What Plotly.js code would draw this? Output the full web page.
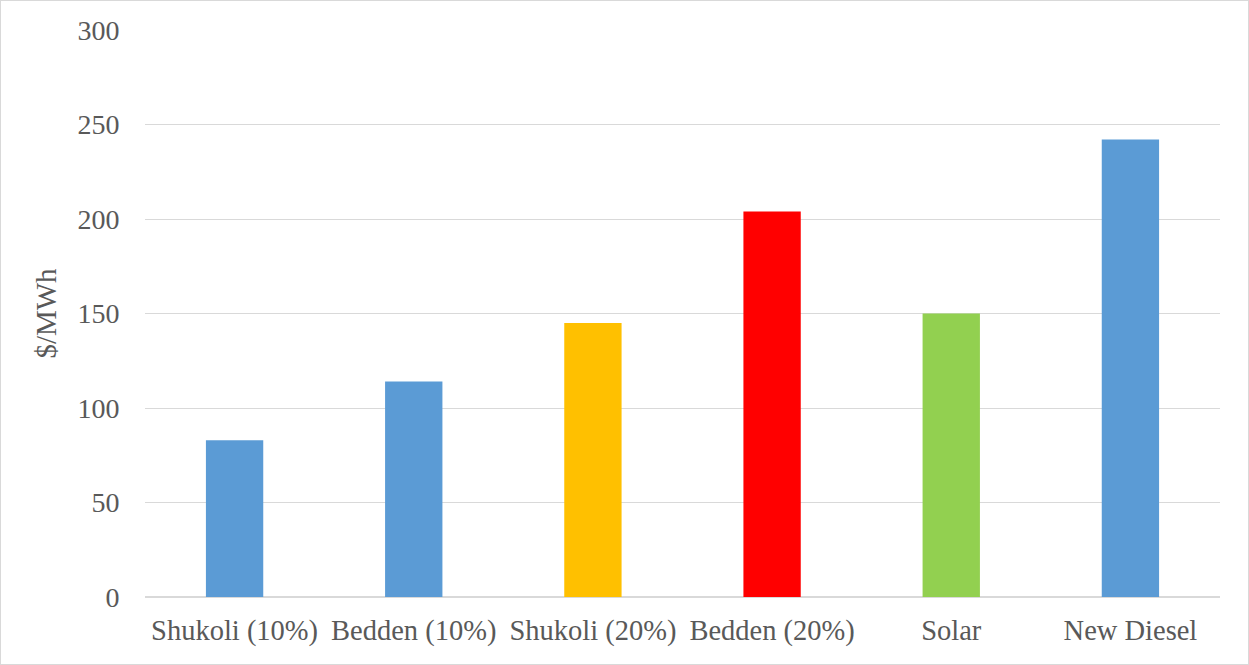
<!DOCTYPE html>
<html>
<head>
<meta charset="utf-8">
<script src="https://cdn.plot.ly/plotly-3.0.1.min.js"></script>
<style>
html,body{margin:0;padding:0;background:#fff;}
#wrap{width:1249px;height:665px;box-sizing:border-box;border:1px solid #d9d9d9;}
#chart{width:1247px;height:663px;}
</style>
</head>
<body>
<div id="wrap"><div id="chart"></div></div>
<script>
const categories = ["Shukoli (10%)", "Bedden (10%)", "Shukoli (20%)", "Bedden (20%)", "Solar", "New Diesel"];
const costs = [83, 114, 145, 204, 150, 242];
const barColors = ["#5B9BD5", "#5B9BD5", "#FFC000", "#FF0000", "#92D050", "#5B9BD5"];
const yTicks = [0, 50, 100, 150, 200, 250, 300];

const font = {family: "Liberation Serif, serif", color: "#595959"};

Plotly.newPlot("chart", [{
  type: "bar",
  x: categories,
  y: costs,
  marker: {color: barColors},
  hoverinfo: "x+y"
}], {
  width: 1247, height: 663,
  margin: {l: 144, r: 28, t: 29, b: 67},
  paper_bgcolor: "#fff", plot_bgcolor: "#fff",
  bargap: 0.68,
  showlegend: false,
  font: Object.assign({size: 28}, font),
  xaxis: {
    type: "category",
    showgrid: false,
    showline: false,
    ticks: "outside", ticklen: 8, tickcolor: "rgba(0,0,0,0)",
    tickfont: Object.assign({size: 28.5}, font)
  },
  yaxis: {
    range: [0, 300],
    tickvals: yTicks,
    gridcolor: "#d9d9d9", gridwidth: 1,
    zeroline: true, zerolinecolor: "#d9d9d9", zerolinewidth: 1.5,
    showline: false,
    ticks: "outside", ticklen: 19, tickcolor: "rgba(0,0,0,0)",
    tickfont: Object.assign({size: 28}, font),
    title: {text: "$/MWh", font: Object.assign({size: 29}, font), standoff: 12}
  }
}, {displayModeBar: false, staticPlot: true});
</script>
</body>
</html>
